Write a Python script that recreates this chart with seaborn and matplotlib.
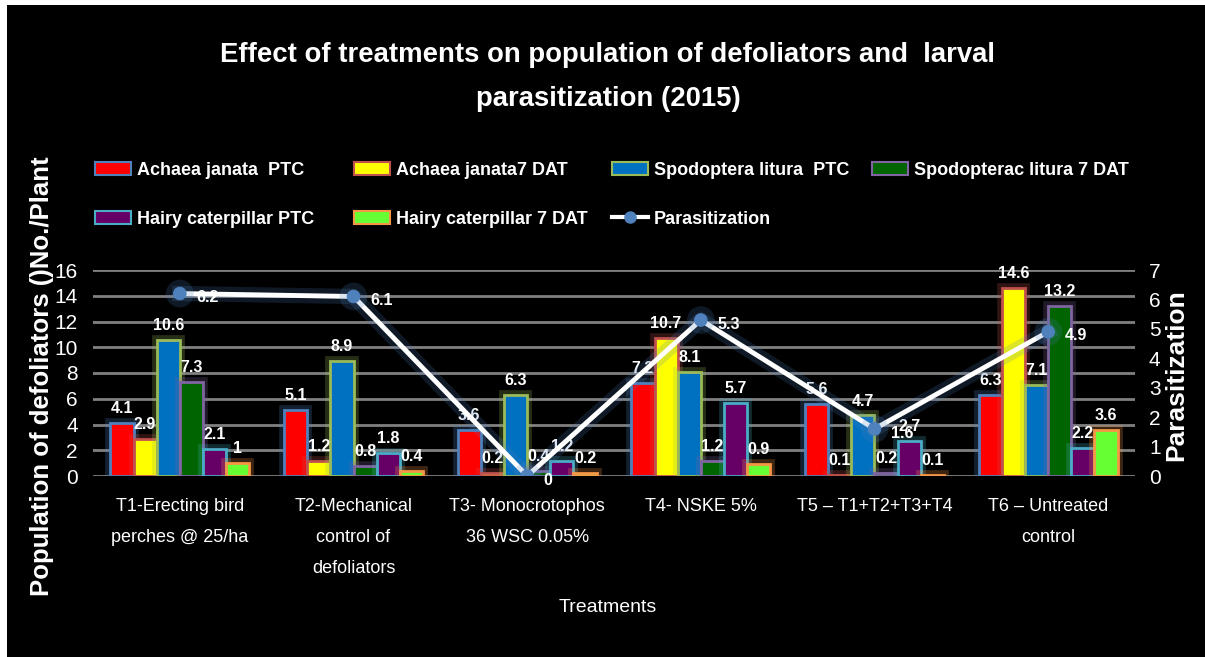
import numpy as np
import pandas as pd
import seaborn as sns
import matplotlib
matplotlib.use('Agg')
import matplotlib.pyplot as plt
import matplotlib.patheffects as pe
from matplotlib.patches import Patch, Rectangle
from matplotlib.lines import Line2D

# data
treatments = ['T1-Erecting bird\nperches @ 25/ha',
              'T2-Mechanical\ncontrol of\ndefoliators',
              'T3- Monocrotophos\n36 WSC 0.05%',
              'T4- NSKE 5%',
              'T5 \u2013 T1+T2+T3+T4',
              'T6 \u2013 Untreated\ncontrol']
series = ['Achaea janata  PTC', 'Achaea janata7 DAT', 'Spodoptera litura  PTC',
          'Spodopterac litura 7 DAT', 'Hairy caterpillar PTC', 'Hairy caterpillar 7 DAT']
achaea_ptc = [4.1, 5.1, 3.6, 7.2, 5.6, 6.3]
achaea_7dat = [2.9, 1.2, 0.2, 10.7, 0.1, 14.6]
spodo_ptc = [10.6, 8.9, 6.3, 8.1, 4.7, 7.1]
spodo_7dat = [7.3, 0.8, 0.4, 1.2, 0.2, 13.2]
hairy_ptc = [2.1, 1.8, 1.2, 5.7, 2.7, 2.2]
hairy_7dat = [1, 0.4, 0.2, 0.9, 0.1, 3.6]
parasitization = [6.2, 6.1, 0, 5.3, 1.6, 4.9]

fills = ['#FF0000', '#FFFF00', '#0070C0', '#006400', '#660066', '#66FF33']
edges = ['#4F81BD', '#C0504D', '#9BBB59', '#8064A2', '#4BACC6', '#F79646']

font = ['Liberation Sans', 'DejaVu Sans']

rows = []
for name, vals in zip(series, [achaea_ptc, achaea_7dat, spodo_ptc, spodo_7dat, hairy_ptc, hairy_7dat]):
    for t, v in zip(treatments, vals):
        rows.append({'Treatment': t, 'Series': name, 'Value': v})
df = pd.DataFrame(rows)

fig = plt.figure(figsize=(12.05, 6.57), dpi=100, facecolor='white')
fig.patches.append(Rectangle((7 / 1205, 0), 1, 1 - 5 / 657, transform=fig.transFigure,
                             facecolor='black', edgecolor='none', zorder=-10))
ax = fig.add_axes([93 / 1205, 1 - 476 / 657, 1042 / 1205, 206 / 657])
ax.set_facecolor('none')

sns.barplot(data=df, x='Treatment', y='Value', hue='Series', order=treatments,
            hue_order=series, palette=fills, ax=ax, legend=False, saturation=1, width=0.8)

for i, cont in enumerate(ax.containers):
    for bar in cont:
        bar.set_edgecolor(edges[i])
        bar.set_linewidth(2)
        bar.set_path_effects([pe.Stroke(linewidth=7, foreground=edges[i], alpha=0.25), pe.Normal()])
    ax.bar_label(cont, labels=['%g' % b.get_height() for b in cont], padding=5,
                 color='white', fontsize=11.5, fontweight='bold', family=font)

ax.set_ylim(0, 16)
ax.set_xlim(-0.5, 5.5)
ax.set_yticks(np.arange(0, 17, 2))
ax.yaxis.grid(True, color='#808080', linewidth=2)
ax.set_axisbelow(True)
for s in ax.spines.values():
    s.set_visible(False)
ax.tick_params(axis='both', length=0, colors='white')
ax.tick_params(axis='y', pad=11, labelsize=15)
ax.tick_params(axis='x', pad=16, labelsize=13)
for lab in ax.get_yticklabels():
    lab.set_family(font)
for lab in ax.get_xticklabels():
    lab.set_family(font)
    lab.set_linespacing(2.05)
ax.set_xlabel('')
ax.set_ylabel('')

ax2 = ax.twinx()
ax2.set_facecolor('none')
xs = np.arange(len(treatments))
sns.lineplot(x=xs, y=parasitization, ax=ax2, color='white', linewidth=3.5, marker='o',
             markersize=9, markerfacecolor='#4F81BD', markeredgecolor='#4F81BD',
             path_effects=[pe.Stroke(linewidth=11, foreground='#4F81BD', alpha=0.2), pe.Normal()])
for x, v in zip(xs, parasitization):
    ax2.annotate('%g' % v, (x, v), xytext=(12, -3), textcoords='offset points',
                 ha='left', va='center', color='white', fontsize=11.5, fontweight='bold', family=font)
ax2.set_ylim(0, 7)
ax2.set_yticks(range(8))
for s in ax2.spines.values():
    s.set_visible(False)
ax2.tick_params(axis='y', length=0, colors='white', pad=10, labelsize=15)
for lab in ax2.get_yticklabels():
    lab.set_family(font)
ax2.set_ylabel('')

fig.text(42 / 1205, 1 - 376 / 657, 'Population of defoliators ()No./Plant', rotation=90,
         ha='center', va='center', color='white', fontsize=18.5, fontweight='bold', family=font)
fig.text(1176 / 1205, 1 - 375 / 657, 'Parasitization', rotation=90,
         ha='center', va='center', color='white', fontsize=19, fontweight='bold', family=font)
fig.text(608 / 1205, 1 - 608 / 657, 'Treatments', ha='center', va='center',
         color='white', fontsize=14, family=font)
fig.text(608 / 1205, 1 - 77 / 657,
         'Effect of treatments on population of defoliators and  larval\nparasitization (2015)',
         ha='center', va='center', color='white', fontsize=19.8, fontweight='bold',
         family=font, linespacing=1.93)

handles = [Patch(facecolor=f, edgecolor=e, linewidth=1.5) for f, e in zip(fills, edges)]
handles.append(Line2D([], [], color='white', linewidth=3, marker='o', markersize=8,
                      markerfacecolor='#4F81BD', markeredgecolor='#4F81BD'))
labels = series + ['Parasitization']
# legend laid out row by row, one legend per column
columns = [[0, 4], [1, 5], [2, 6], [3]]
col_x = [95, 354, 612, 872]
for idx, cx in zip(columns, col_x):
    leg = fig.legend([handles[i] for i in idx], [labels[i] for i in idx], ncol=1,
                     loc='upper left', bbox_to_anchor=(cx / 1205, 1 - 162 / 657),
                     frameon=False, handlelength=2.0, handleheight=0.7,
                     handletextpad=0.3, labelspacing=1.75, borderaxespad=0, borderpad=0,
                     labelcolor='white', prop={'family': font, 'size': 13, 'weight': 'bold'})

fig.savefig('out.png', dpi=100, facecolor=fig.get_facecolor())
